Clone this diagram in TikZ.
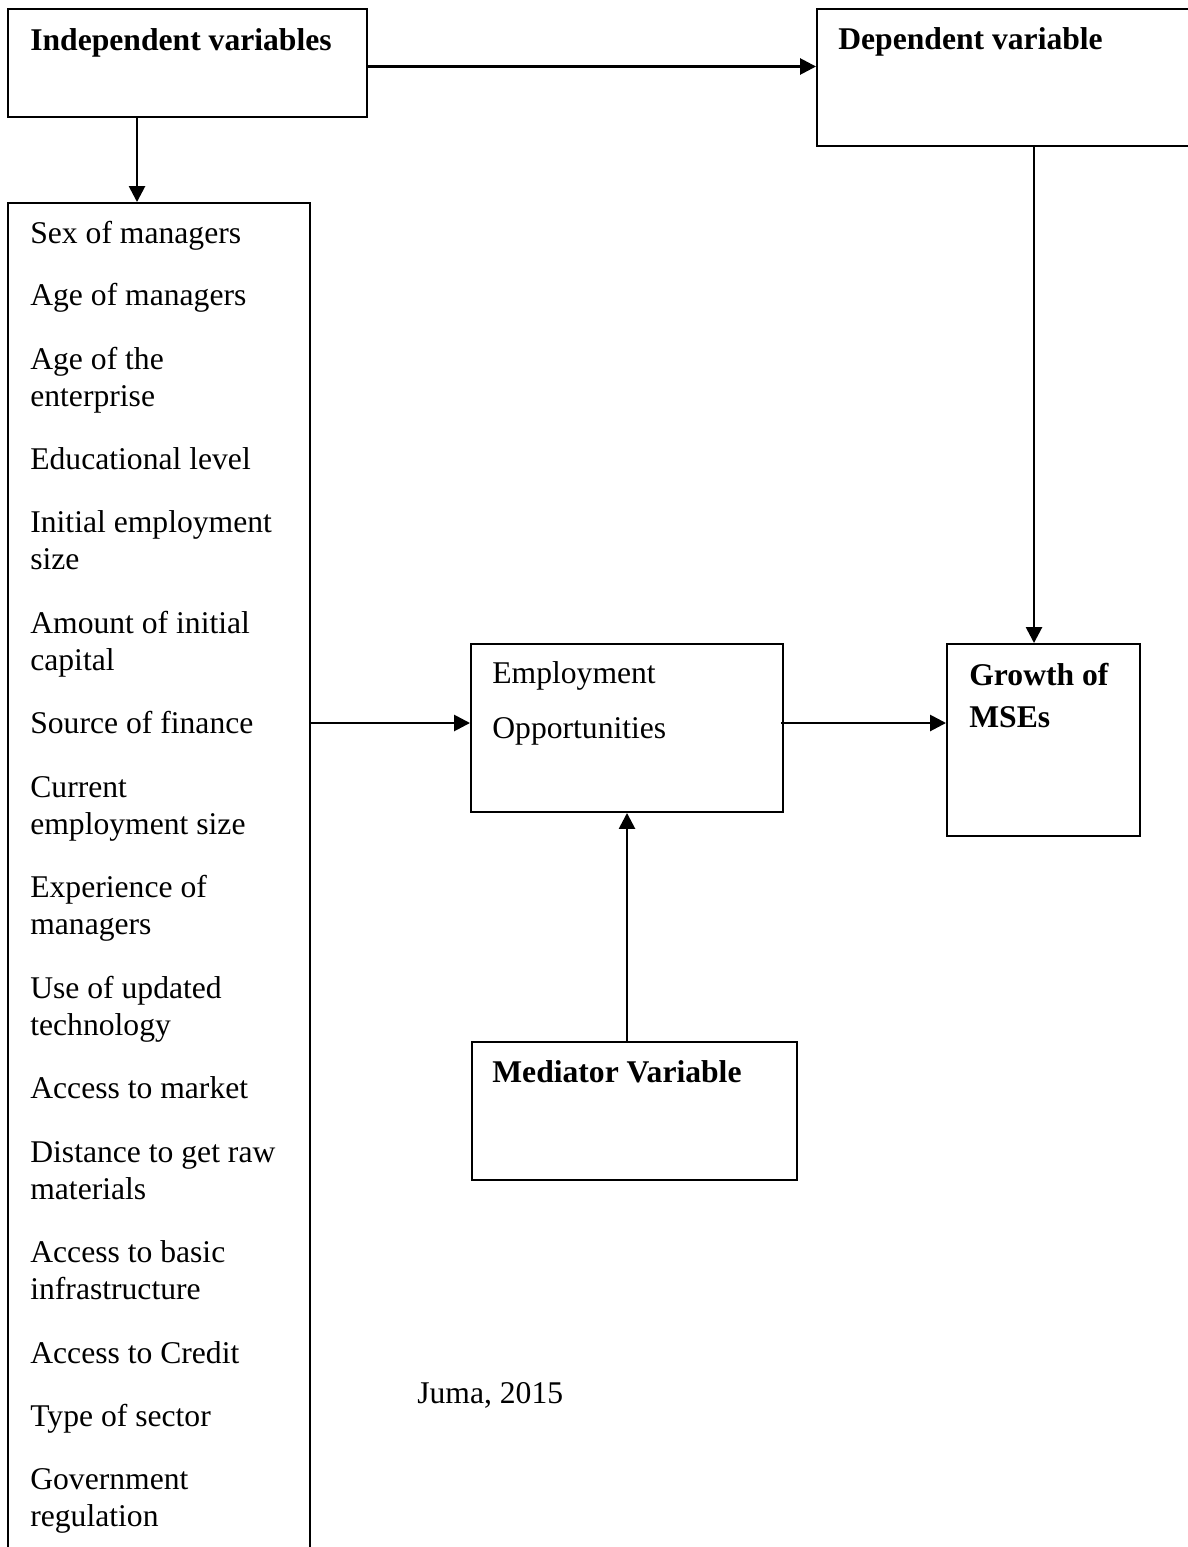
\documentclass[tikz,border=0pt]{standalone}
\usepackage{fontspec}
\setmainfont{Liberation Serif}
\usetikzlibrary{arrows.meta, fit}

\tikzset{
  box/.style={draw, line width=1.1pt, inner sep=0pt},
  item/.style={anchor=base west, inner sep=0pt, align=left, font=\fontsize{18}{21}\selectfont},
  head/.style={item, font=\fontsize{18}{21}\selectfont\bfseries},
  link/.style={-{Triangle[length=9pt,width=9pt]}, line width=1.5pt},
}

\begin{document}
\begin{tikzpicture}[x=0.02cm, y=-0.02cm]
    \useasboundingbox[fill=white] (0,0) rectangle (1187,1547);

    % Cadres
    \node[box, fit={(8,9) (367,117)}] (indep) {};
    \node[box, fit={(817,9) (1200,146)}] (dep) {};
    \node[box, fit={(8,203) (310,1570)}] (list) {};
    \node[box, fit={(471,644) (783,812)}] (emp) {};
    \node[box, fit={(947,644) (1140,836)}] (growth) {};
    \node[box, fit={(472,1042) (797,1180)}] (med) {};

    % Titres (ancre = ligne de base de la derniere ligne)
    \node[head] (tIndep) at (30,51) {Independent variables};
    \node[head] (tDep) at (838,50) {Dependent variable};
    \node[head] (tGrowth) at (969,727) {Growth of\\[2.8pt]MSEs};
    \node[head] (tMed) at (492,1082) {Mediator Variable};
    \node[item] (tEmp) at (492,738) {Employment\\[10pt]Opportunities};
    \node[item] (tSrc) at (417,1403) {Juma, 2015};

    % Liste des variables
    \foreach \y/\t [count=\i] in {
        244/{Sex of managers},
        306/{Age of managers},
        406/{Age of the\\enterprise},
        469/{Educational level},
        569/{Initial employment\\size},
        670/{Amount of initial\\capital},
        733/{Source of finance},
        834/{Current\\employment size},
        934/{Experience of\\managers},
        1035/{Use of updated\\technology},
        1098/{Access to market},
        1199/{Distance to get raw\\materials},
        1299/{Access to basic\\infrastructure},
        1363/{Access to Credit},
        1426/{Type of sector},
        1526/{Government\\regulation}}
        \node[item] (v\i) at (30,\y) {\t};

    % Flèches
    \draw[link] ([yshift=-0.07cm]indep.east) -- ([yshift=-0.07cm]indep.east -| dep.west);
    \draw[link] ([xshift=-1.01cm]indep.south) -- ([xshift=-1.01cm]indep.south |- list.north);
    \draw[link] ([xshift=-0.19cm]growth.north |- dep.south) -- ([xshift=-0.19cm]growth.north);
    \draw[link] ([yshift=0.1cm]emp.west -| list.east) -- ([yshift=0.1cm]emp.west);
    \draw[link] ([yshift=0.1cm, xshift=-0.06cm]emp.east) -- ([yshift=0.1cm]emp.east -| growth.west);
    \draw[link] (emp.south |- med.north) -- (emp.south);
\end{tikzpicture}
\end{document}
